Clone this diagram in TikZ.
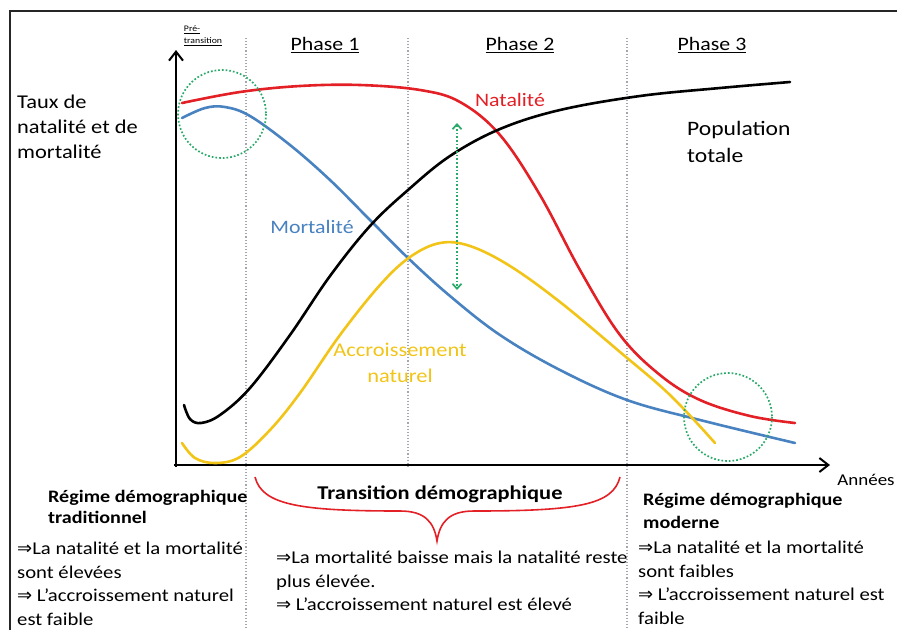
\documentclass[tikz,border=0pt]{standalone}
\usepackage{fontspec}
\setmainfont[FakeStretch=1.15]{Carlito}
\newfontfamily\symfont{DejaVu Sans}
\usetikzlibrary{arrows.meta}

\definecolor{natred}{RGB}{226,32,38}
\definecolor{mortblue}{RGB}{72,130,192}
\definecolor{accyellow}{RGB}{242,196,24}
\definecolor{ringgreen}{RGB}{40,170,105}
\definecolor{sepgray}{RGB}{165,165,175}

\NewDocumentCommand{\impl}{}{{\symfont\char"21D2}}
\NewDocumentCommand{\phasehead}{mmm}{%
\node[lbl, font=\fontsize{19}{23}\selectfont] (#1) at (#2,45) {\underline{#3}};%
}

\tikzset{
  curve/.style={line width=2.6pt, line cap=round},
  sep/.style={sepgray, dotted, line width=1.1pt},
  ring/.style={ringgreen, dotted, line width=1.7pt},
  lbl/.style={inner sep=0pt, font=\fontsize{19}{23}\selectfont},
  note/.style={inner sep=0pt, font=\fontsize{18}{23.5}\selectfont, align=left, anchor=north west},
  axis/.style={line width=2.4pt, -{Straight Barb[length=9pt,width=14pt,line width=2pt]}},
}

\begin{document}
\begin{tikzpicture}[x=1pt, y=-1pt]
\useasboundingbox (0,0) rectangle (897,630);
\draw[line width=1.4pt, black!85] (10,630) -- (10,11) -- (897,11);

% phase separators
\draw[sep] (246,38) -- (246,630);
\draw[sep] (408,38) -- (408,466);
\draw[sep] (627,38) -- (627,630);

% headings
\node[inner sep=0pt, align=left, font=\fontsize{8.5}{12}\selectfont] (pre) at (203,36)
  {\underline{Pré-}\\\underline{transition}};
\phasehead{ph1}{325}{Phase 1}
\phasehead{ph2}{520}{Phase 2}
\phasehead{ph3}{712}{Phase 3}

% axes
\coordinate (o) at (176,465);
\coordinate (ytip) at (176,50);
\coordinate (xtip) at (830,465);
\draw[axis] (176,467) -- (ytip);
\draw[axis] (174,465) -- (xtip);

% curves
\draw[curve, natred] plot[smooth, tension=0.6] coordinates {(182,103) (240,92) (300,86)
  (360,85) (420,90) (460,102) (500,135) (540,195) (580,270) (620,335) (660,375)
  (700,400) (750,416) (795,423)};
\draw[curve, mortblue] plot[smooth, tension=0.6] coordinates {(182,118) (205,108)
  (225,107) (250,116) (290,145) (330,180) (370,220) (408,258) (450,296) (500,335)
  (560,370) (627,400) (700,420) (795,443)};
\draw[curve, black] plot[smooth, tension=0.6] coordinates {(184,405) (190,419) (201,423)
  (220,415) (250,388) (290,335) (330,276) (370,226) (408,190) (450,156) (500,129)
  (560,110) (640,96) (720,88) (790,82)};
\draw[curve, accyellow] plot[smooth, tension=0.6] coordinates {(182,443) (195,458)
  (215,463) (240,457) (270,430) (300,393) (340,335) (380,285) (410,257) (440,243)
  (470,246) (510,266) (560,302) (620,352) (670,395) (715,443)};

% highlights
\draw[ring] (222,114) circle[radius=44];
\draw[ring] (728,417) circle[radius=44];
\coordinate (gtop) at (457,123);
\coordinate (gbot) at (457,290);
\draw[ring, {Straight Barb[length=5pt,width=9pt]}-{Straight Barb[length=5pt,width=9pt]}] (gtop) -- (gbot);

% curve labels
\node[note, font=\fontsize{19.5}{25}\selectfont] (taux) at (17,95) {Taux de\\natalité et de\\mortalité};
\node[lbl, natred] (nat) at (510,100) {Natalité};
\node[lbl, mortblue] (mort) at (312,227) {Mortalité};
\node[lbl, accyellow, align=center, font=\fontsize{19.5}{26}\selectfont] (acc) at (400,363) {Accroissement\\naturel};
\node[note, font=\fontsize{20.5}{27}\selectfont] (pop) at (687,121) {Population\\totale};
\node[lbl, font=\fontsize{16.5}{20}\selectfont] (annees) at (866,480) {Années};

% bottom: regimes
\node[note, font=\bfseries\fontsize{17.5}{21}\selectfont] (trad) at (48,490)
  {Régime démographique\\traditionnel};
\node[note] (tradtxt) at (17,542)
  {\impl La natalité et la mortalité\\sont élevées\\\impl\ L’accroissement naturel\\est faible};

\draw[natred, line width=1.6pt] (255,477) .. controls (262,505) and (300,511) .. (400,511)
  .. controls (425,511) and (434,522) .. (437,541)
  .. controls (440,522) and (449,511) .. (474,511)
  .. controls (578,511) and (613,505) .. (620,477);
\node[lbl, font=\bfseries\fontsize{19.5}{22}\selectfont] (trans) at (440,494) {Transition démographique};
\node[note] (transtxt) at (276,551)
  {\impl La mortalité baisse mais la natalité reste\\plus élevée.\\\impl\ L’accroissement naturel est élevé};

\node[note, font=\bfseries\fontsize{17.5}{23}\selectfont] (mod) at (643,493)
  {Régime démographique\\moderne};
\node[note] (modtxt) at (638,541)
  {\impl La natalité et la mortalité\\sont faibles\\\impl\ L’accroissement naturel est\\faible};
\end{tikzpicture}
\end{document}
